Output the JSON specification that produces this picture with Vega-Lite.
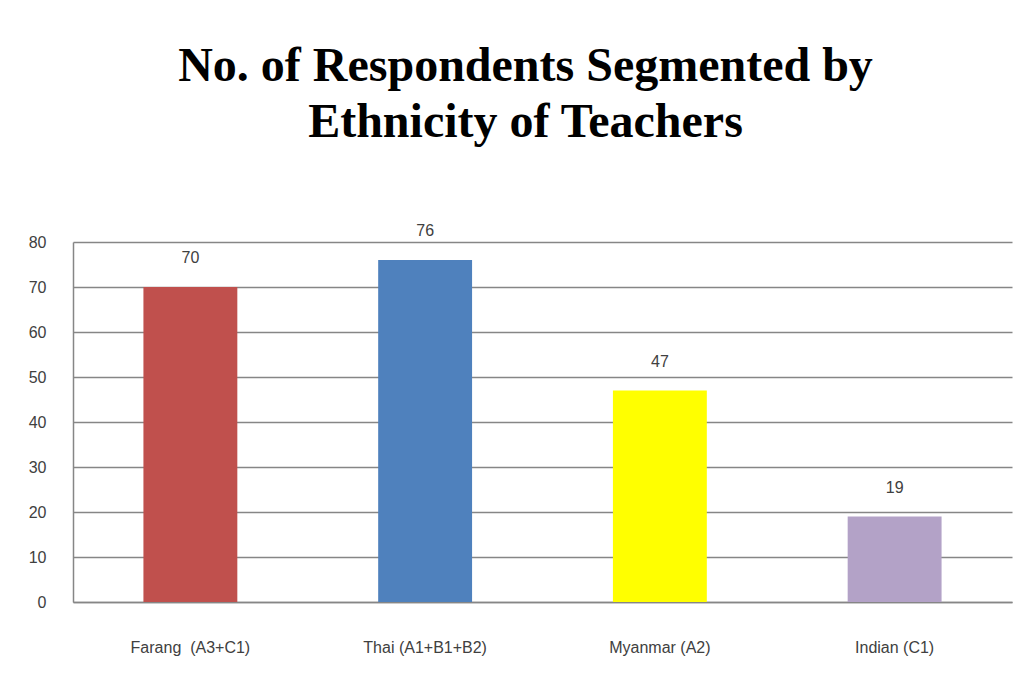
{
  "$schema": "https://vega.github.io/schema/vega-lite/v6.json",
  "autosize": {"type": "none"},
  "width": 939,
  "height": 360,
  "padding": {"left": 73, "top": 242, "right": 15, "bottom": 73},
  "background": "white",
  "title": {
    "text": ["No. of Respondents Segmented by", "Ethnicity of Teachers"],
    "font": "Liberation Serif",
    "fontSize": 48,
    "fontWeight": "bold",
    "color": "#000000",
    "lineHeight": 56,
    "anchor": "middle",
    "frame": "group",
    "dx": -17,
    "baseline": "bottom",
    "offset": 28
  },
  "data": {
    "values": [
      {"group": "Farang\u00a0 (A3+C1)", "count": 70, "color": "#C0504D"},
      {"group": "Thai (A1+B1+B2)", "count": 76, "color": "#4F81BD"},
      {"group": "Myanmar (A2)", "count": 47, "color": "#FFFF00"},
      {"group": "Indian (C1)", "count": 19, "color": "#B3A2C7"}
    ]
  },
  "encoding": {
    "x": {
      "field": "group",
      "type": "nominal",
      "sort": null,
      "scale": {"paddingInner": 0.6, "paddingOuter": 0.3},
      "axis": {
        "title": null,
        "labelAngle": 0,
        "labelFont": "Liberation Sans",
        "labelFontSize": 16,
        "labelColor": "#404040",
        "labelPadding": 37,
        "ticks": false,
        "domain": true,
        "domainColor": "#868686",
        "domainWidth": 1.5
      }
    },
    "y": {
      "field": "count",
      "type": "quantitative",
      "scale": {"domain": [0, 80], "nice": false},
      "axis": {
        "title": null,
        "values": [0, 10, 20, 30, 40, 50, 60, 70, 80],
        "labelFont": "Liberation Sans",
        "labelFontSize": 16,
        "labelColor": "#404040",
        "labelPadding": 27,
        "ticks": false,
        "domain": true,
        "domainColor": "#868686",
        "domainWidth": 1.5,
        "grid": true,
        "gridColor": "#868686",
        "gridWidth": 1.5
      }
    }
  },
  "layer": [
    {
      "mark": {"type": "bar"},
      "encoding": {
        "color": {"field": "color", "type": "nominal", "scale": null, "legend": null}
      }
    },
    {
      "mark": {
        "type": "text",
        "baseline": "alphabetic",
        "dy": -24,
        "font": "Liberation Sans",
        "fontSize": 16,
        "color": "#404040"
      },
      "encoding": {
        "text": {"field": "count", "type": "quantitative"}
      }
    }
  ],
  "config": {
    "view": {"stroke": null}
  }
}
